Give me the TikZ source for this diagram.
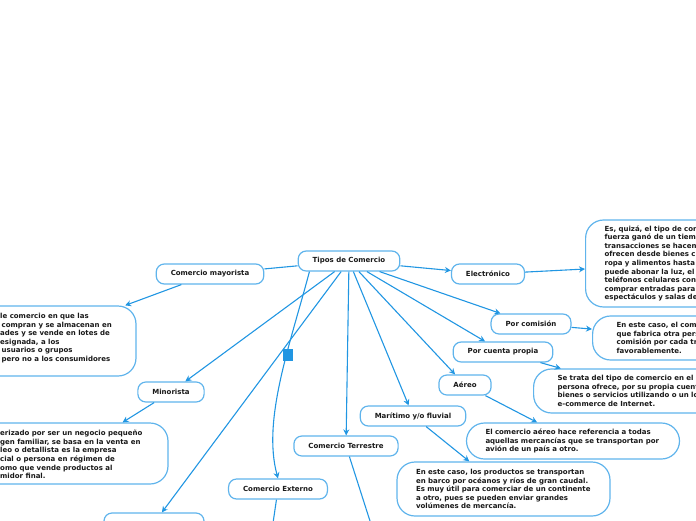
\documentclass[tikz,border=0pt]{standalone}
\usepackage{fontspec}
\setmainfont{DejaVu Sans}
\usepackage{tikz}
\usetikzlibrary{arrows.meta}

\definecolor{linkblue}{RGB}{33,150,226}
\definecolor{boxblue}{RGB}{96,180,236}
\definecolor{inkgray}{RGB}{25,25,25}

\begin{document}
\begin{tikzpicture}[x=1pt,y=-1pt,
    topic/.style={draw=boxblue, line width=1.2pt, rounded corners=8pt, fill=white,
        inner xsep=14.5pt, inner ysep=0pt, minimum height=20pt, text=inkgray,
        font=\fontsize{7}{8.6}\selectfont\bfseries},
    note/.style={draw=boxblue, line width=1.2pt, rounded corners=18pt, fill=white,
        inner xsep=19pt, inner ysep=0pt, align=left, text=inkgray,
        font=\fontsize{7}{8.6}\selectfont\bfseries},
    notetext/.style={inner sep=0pt, align=left, text=inkgray,
        font=\fontsize{7}{8.6}\selectfont\bfseries},
    linkline/.style={draw=linkblue, line width=1.1pt, -{Stealth[length=6pt,width=6pt]}},
    bareline/.style={draw=linkblue, line width=1.1pt}]
    \useasboundingbox (0,0) rectangle (696,520);

    % main topic and its children
    \node[topic] (tipos) at (349,261) {Tipos de Comercio};
    \node[topic] (mayorista) at (210,274) {Comercio mayorista};
    \node[topic] (minorista) at (171,392) {Minorista};
    \node[topic] (electronico) at (488,274) {Electrónico};
    \node[topic] (comision) at (531,324) {Por comisión};
    \node[topic] (propia) at (503,352) {Por cuenta propia};
    \node[topic] (aereo) at (465,385) {Aéreo};
    \node[topic] (maritimo) at (413,416) {Marítimo y/o fluvial};
    \node[topic] (terrestre) at (346,446) {Comercio Terrestre};
    \node[topic] (externo) at (278,489) {Comercio Externo};
    \node[topic, minimum width=100pt] (interior) at (154,523) {};

    % notes
    \node[note, minimum width=214pt, minimum height=70pt] (mayornote) at (29,341) {};
    \node[notetext, anchor=west] (mayortext) at (0,338) {le comercio en que las\\
        \hspace*{1.5pt}compran y se almacenan en\\
        ades y se vende en lotes de\\
        esignada, a los\\
        \hspace*{1.5pt}usuarios o grupos\\
        \hspace*{1.5pt}pero no a los consumidores};
    \node[note, minimum width=190pt, minimum height=61pt] (minornote) at (73,453.5) {};
    \node[notetext, anchor=west] (minortext) at (0,454.5) {erizado por ser un negocio pequeño\\
        gen familiar, se basa en la venta en\\
        leo o detallista es la empresa\\
        cial o persona en régimen de\\
        omo que vende productos al\\
        midor final.};
    \node[note, anchor=west, text width=176pt, minimum height=87pt] (elecnote) at (585,263.5)
        {Es, quizá, el tipo de com\\ fuerza ganó de un tiem\\ transacciones se hacen\\
         ofrecen desde bienes c\\ ropa y alimentos hasta\\ puede abonar la luz, el\\
         teléfonos celulares con\\ comprar entradas para\\ espectáculos y salas de};
    \node[note, anchor=west, inner xsep=24pt, text width=166pt, minimum height=44pt] (comnote) at (592,338)
        {En este caso, el com\\ que fabrica otra pers\\ comisión por cada tr\\ favorablemente.};
    \node[note, anchor=west, inner xsep=24pt, text width=166pt, minimum height=44pt] (propianote) at (533,391)
        {Se trata del tipo de comercio en el q\\ persona ofrece, por su propia cuent\\
         bienes o servicios utilizando o un lo\\ e-commerce de Internet.};
    \node[note, text width=175pt, minimum height=36pt] (aereonote) at (573,441)
        {El comercio aéreo hace referencia a todas\\ aquellas mercancías que se transportan por\\
         avión de un país a otro.};
    \node[note, text width=175pt, minimum height=54pt] (maritnote) at (503.5,489)
        {En este caso, los productos se transportan\\ en barco por océanos y ríos de gran caudal.\\
         Es muy útil para comerciar de un continente\\ a otro, pues se pueden enviar grandes\\
         volúmenes de mercancía.};

    \coordinate (terrchild) at (378,546);
    \coordinate (extchild) at (272,530);

    % connectors
    \draw[bareline] (tipos) -- (mayorista);
    \draw[linkline] (tipos) -- (minorista);
    \draw[linkline] (tipos) -- (interior);
    \draw[linkline] (tipos.195) .. controls (290,345) and (262,420) .. (externo.north);
    \draw[linkline] (tipos) -- (terrestre);
    \draw[linkline] (tipos) -- (maritimo);
    \draw[linkline] (tipos) -- (aereo);
    \draw[linkline] (tipos) -- (propia);
    \draw[linkline] (tipos) -- (comision);
    \draw[linkline] (tipos) -- (electronico);

    \draw[linkline] (mayorista) -- (mayornote);
    \draw[linkline] (minorista) -- (minornote);
    \draw[linkline] (electronico) -- (elecnote);
    \draw[linkline] (comision) -- (comnote);
    \draw[linkline] (propia) -- (propianote);
    \draw[linkline] (aereo) -- (aereonote);
    \draw[linkline] (maritimo) -- (maritnote);
    \draw[bareline] (terrestre) -- (terrchild);
    \draw[bareline] (externo) -- (extchild);

    \node[fill=linkblue, minimum width=10pt, minimum height=11.5pt, inner sep=0pt] (handle) at (288,355) {};
\end{tikzpicture}
\end{document}
